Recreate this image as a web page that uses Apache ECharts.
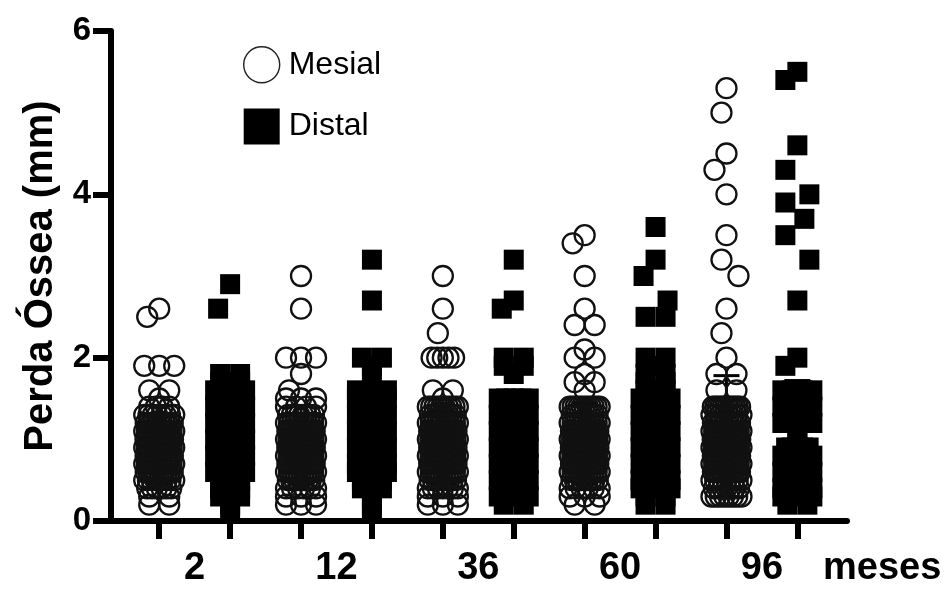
<!DOCTYPE html>
<html>
<head>
<meta charset="utf-8">
<script src="https://cdn.jsdelivr.net/npm/echarts@6/dist/echarts.min.js"></script>
<style>html,body{margin:0;padding:0;background:#fff}#c{width:949px;height:590px}</style>
</head>
<body>
<div id="c"></div>
<script>
// ---------- data (bone loss, mm) ----------
const categories = ['2', '12', '36', '60', '96'];

const mesial2 = [2.6, 2.5, 1.9, 1.9, 1.9, 1.6, 1.6, 1.5,
  1.4, 1.4, 1.4, 1.4,
  1.3, 1.3, 1.3, 1.3, 1.3, 1.3, 1.3, 1.3,
  1.2, 1.2, 1.2, 1.2, 1.2, 1.2, 1.2, 1.2, 1.2, 1.2, 1.2,
  1.1, 1.1, 1.1, 1.1, 1.1, 1.1, 1.1, 1.1, 1.1, 1.1, 1.1, 1.1,
  1.0, 1.0, 1.0, 1.0, 1.0, 1.0, 1.0, 1.0, 1.0, 1.0, 1.0, 1.0, 1.0,
  0.9, 0.9, 0.9, 0.9, 0.9, 0.9, 0.9, 0.9, 0.9, 0.9, 0.9, 0.9, 0.9,
  0.8, 0.8, 0.8, 0.8, 0.8, 0.8, 0.8, 0.8, 0.8, 0.8, 0.8, 0.8,
  0.7, 0.7, 0.7, 0.7, 0.7, 0.7, 0.7, 0.7, 0.7, 0.7, 0.7, 0.7,
  0.6, 0.6, 0.6, 0.6, 0.6, 0.6, 0.6, 0.6, 0.6, 0.6, 0.6,
  0.5, 0.5, 0.5, 0.5, 0.5, 0.5, 0.5, 0.5, 0.5,
  0.4, 0.4, 0.4, 0.4, 0.4, 0.4,
  0.3, 0.3, 0.2, 0.2];
const mesial12 = [3.0, 2.6, 2.0, 2.0, 2.0, 1.8, 1.6, 1.5, 1.5, 1.5,
  1.4, 1.4, 1.4, 1.4,
  1.3, 1.3, 1.3, 1.3, 1.3, 1.3, 1.3, 1.3,
  1.2, 1.2, 1.2, 1.2, 1.2, 1.2, 1.2, 1.2, 1.2, 1.2, 1.2,
  1.1, 1.1, 1.1, 1.1, 1.1, 1.1, 1.1, 1.1, 1.1, 1.1, 1.1, 1.1,
  1.0, 1.0, 1.0, 1.0, 1.0, 1.0, 1.0, 1.0, 1.0, 1.0, 1.0, 1.0, 1.0,
  0.9, 0.9, 0.9, 0.9, 0.9, 0.9, 0.9, 0.9, 0.9, 0.9, 0.9, 0.9, 0.9,
  0.8, 0.8, 0.8, 0.8, 0.8, 0.8, 0.8, 0.8, 0.8, 0.8, 0.8, 0.8,
  0.7, 0.7, 0.7, 0.7, 0.7, 0.7, 0.7, 0.7, 0.7, 0.7, 0.7, 0.7,
  0.6, 0.6, 0.6, 0.6, 0.6, 0.6, 0.6, 0.6, 0.6, 0.6, 0.6,
  0.5, 0.5, 0.5, 0.5, 0.5, 0.5, 0.5, 0.5, 0.5,
  0.4, 0.4, 0.4, 0.4, 0.4, 0.4,
  0.3, 0.3, 0.3, 0.2, 0.2, 0.2];
const mesial36 = [3.0, 2.6, 2.3, 2.0, 2.0, 2.0, 2.0, 2.0, 1.6, 1.6, 1.5,
  1.4, 1.4, 1.4, 1.4, 1.4, 1.4, 1.4, 1.4, 1.4, 1.4,
  1.3, 1.3, 1.3, 1.3, 1.3, 1.3, 1.3, 1.3,
  1.2, 1.2, 1.2, 1.2, 1.2, 1.2, 1.2, 1.2, 1.2, 1.2, 1.2,
  1.1, 1.1, 1.1, 1.1, 1.1, 1.1, 1.1, 1.1, 1.1, 1.1, 1.1, 1.1,
  1.0, 1.0, 1.0, 1.0, 1.0, 1.0, 1.0, 1.0, 1.0, 1.0, 1.0, 1.0, 1.0,
  0.9, 0.9, 0.9, 0.9, 0.9, 0.9, 0.9, 0.9, 0.9, 0.9, 0.9, 0.9,
  0.8, 0.8, 0.8, 0.8, 0.8, 0.8, 0.8, 0.8, 0.8, 0.8, 0.8, 0.8,
  0.7, 0.7, 0.7, 0.7, 0.7, 0.7, 0.7, 0.7, 0.7, 0.7, 0.7, 0.7,
  0.6, 0.6, 0.6, 0.6, 0.6, 0.6, 0.6, 0.6, 0.6, 0.6, 0.6,
  0.5, 0.5, 0.5, 0.5, 0.5, 0.5, 0.5, 0.5, 0.5,
  0.4, 0.4, 0.4, 0.4, 0.4, 0.4, 0.4,
  0.3, 0.3, 0.3, 0.2, 0.2, 0.2];
const mesial60 = [3.5, 3.4, 3.0, 2.6, 2.4, 2.4, 2.1, 2.0, 2.0, 1.8, 1.7, 1.7, 1.6,
  1.4, 1.4, 1.4, 1.4, 1.4, 1.4, 1.4, 1.4, 1.4, 1.4, 1.4,
  1.3, 1.3, 1.3, 1.3, 1.3, 1.3, 1.3, 1.3,
  1.2, 1.2, 1.2, 1.2, 1.2, 1.2, 1.2, 1.2, 1.2, 1.2, 1.2,
  1.1, 1.1, 1.1, 1.1, 1.1, 1.1, 1.1, 1.1, 1.1, 1.1, 1.1, 1.1,
  1.0, 1.0, 1.0, 1.0, 1.0, 1.0, 1.0, 1.0, 1.0, 1.0, 1.0, 1.0, 1.0,
  0.9, 0.9, 0.9, 0.9, 0.9, 0.9, 0.9, 0.9, 0.9, 0.9, 0.9, 0.9, 0.9,
  0.8, 0.8, 0.8, 0.8, 0.8, 0.8, 0.8, 0.8, 0.8, 0.8, 0.8, 0.8,
  0.7, 0.7, 0.7, 0.7, 0.7, 0.7, 0.7, 0.7, 0.7, 0.7, 0.7, 0.7,
  0.6, 0.6, 0.6, 0.6, 0.6, 0.6, 0.6, 0.6, 0.6, 0.6, 0.6,
  0.5, 0.5, 0.5, 0.5, 0.5, 0.5, 0.5, 0.5, 0.5,
  0.4, 0.4, 0.4, 0.4, 0.4, 0.4,
  0.3, 0.3, 0.3, 0.2, 0.2];
const mesial96 = [5.3, 5.0, 4.5, 4.3, 4.0, 3.5, 3.2, 3.0, 2.6, 2.3, 2.0, 1.8, 1.8, 1.6, 1.6,
  1.4, 1.4, 1.4, 1.4, 1.4, 1.4, 1.4, 1.4, 1.4, 1.4, 1.4, 1.4,
  1.3, 1.3, 1.3, 1.3, 1.3, 1.3, 1.3, 1.3,
  1.2, 1.2, 1.2, 1.2, 1.2, 1.2, 1.2, 1.2, 1.2, 1.2, 1.2,
  1.1, 1.1, 1.1, 1.1, 1.1, 1.1, 1.1, 1.1, 1.1, 1.1, 1.1, 1.1,
  1.0, 1.0, 1.0, 1.0, 1.0, 1.0, 1.0, 1.0, 1.0, 1.0, 1.0, 1.0, 1.0,
  0.9, 0.9, 0.9, 0.9, 0.9, 0.9, 0.9, 0.9, 0.9, 0.9, 0.9, 0.9, 0.9,
  0.8, 0.8, 0.8, 0.8, 0.8, 0.8, 0.8, 0.8, 0.8, 0.8, 0.8, 0.8,
  0.7, 0.7, 0.7, 0.7, 0.7, 0.7, 0.7, 0.7, 0.7, 0.7, 0.7, 0.7,
  0.6, 0.6, 0.6, 0.6, 0.6, 0.6, 0.6, 0.6, 0.6, 0.6, 0.6,
  0.5, 0.5, 0.5, 0.5, 0.5, 0.5, 0.5, 0.5, 0.5,
  0.4, 0.4, 0.4, 0.4, 0.4, 0.4, 0.4,
  0.3, 0.3, 0.3, 0.3, 0.3, 0.3, 0.3, 0.3];

const distal2 = [2.9, 2.6, 1.8, 1.8, 1.7, 1.7, 1.6, 1.6, 1.6, 1.6, 1.5, 1.5, 1.5, 1.5,
  1.4, 1.4, 1.4, 1.4, 1.4, 1.3, 1.3, 1.3, 1.3, 1.3, 1.2, 1.2, 1.2, 1.2, 1.2, 1.2,
  1.1, 1.1, 1.1, 1.1, 1.1, 1.1, 1.0, 1.0, 1.0, 1.0, 1.0, 1.0, 1.0,
  0.9, 0.9, 0.9, 0.9, 0.9, 0.9, 0.9, 0.8, 0.8, 0.8, 0.8, 0.8, 0.8,
  0.7, 0.7, 0.7, 0.7, 0.7, 0.7, 0.6, 0.6, 0.6, 0.6, 0.6, 0.5, 0.5, 0.4, 0.4, 0.3, 0.3, 0.2, 0.1];
const distal12 = [3.2, 2.7, 2.0, 2.0, 1.9, 1.8, 1.6, 1.6, 1.6, 1.5, 1.5, 1.5, 1.5,
  1.4, 1.4, 1.4, 1.4, 1.4, 1.3, 1.3, 1.3, 1.3, 1.3, 1.2, 1.2, 1.2, 1.2, 1.2, 1.2,
  1.1, 1.1, 1.1, 1.1, 1.1, 1.1, 1.0, 1.0, 1.0, 1.0, 1.0, 1.0, 1.0,
  0.9, 0.9, 0.9, 0.9, 0.9, 0.9, 0.9, 0.8, 0.8, 0.8, 0.8, 0.8, 0.8,
  0.7, 0.7, 0.7, 0.7, 0.7, 0.6, 0.6, 0.6, 0.5, 0.5, 0.4, 0.4, 0.3, 0.2, 0.1];
const distal36 = [3.2, 2.7, 2.6, 2.0, 2.0, 1.9, 1.9, 1.8,
  1.5, 1.5, 1.5, 1.5, 1.5, 1.4, 1.4, 1.4, 1.4, 1.4, 1.3, 1.3, 1.3, 1.3, 1.3,
  1.2, 1.2, 1.2, 1.2, 1.2, 1.2, 1.1, 1.1, 1.1, 1.1, 1.1, 1.1,
  1.0, 1.0, 1.0, 1.0, 1.0, 1.0, 1.0, 0.9, 0.9, 0.9, 0.9, 0.9, 0.9, 0.9,
  0.8, 0.8, 0.8, 0.8, 0.8, 0.8, 0.8, 0.7, 0.7, 0.7, 0.7, 0.7, 0.7,
  0.6, 0.6, 0.6, 0.6, 0.6, 0.6, 0.5, 0.5, 0.5, 0.5, 0.5, 0.4, 0.4, 0.4, 0.4, 0.3, 0.3, 0.3, 0.2, 0.2];
const distal60 = [3.6, 3.2, 3.0, 2.7, 2.5, 2.5, 2.0, 2.0, 1.9, 1.8, 1.8, 1.7, 1.7,
  1.6, 1.6, 1.6, 1.6, 1.5, 1.5, 1.5, 1.5, 1.4, 1.4, 1.4, 1.4, 1.4, 1.3, 1.3, 1.3, 1.3, 1.3,
  1.2, 1.2, 1.2, 1.2, 1.2, 1.2, 1.1, 1.1, 1.1, 1.1, 1.1, 1.1,
  1.0, 1.0, 1.0, 1.0, 1.0, 1.0, 1.0, 0.9, 0.9, 0.9, 0.9, 0.9, 0.9, 0.9,
  0.8, 0.8, 0.8, 0.8, 0.8, 0.8, 0.7, 0.7, 0.7, 0.7, 0.7, 0.7,
  0.6, 0.6, 0.6, 0.6, 0.6, 0.5, 0.5, 0.5, 0.5, 0.4, 0.4, 0.4, 0.3, 0.3, 0.2, 0.2];
const distal96 = [5.5, 5.4, 4.6, 4.3, 4.0, 3.9, 3.7, 3.5, 3.2, 2.7, 2.0, 1.9,
  1.6, 1.6, 1.6, 1.6, 1.5, 1.5, 1.5, 1.5, 1.5, 1.4, 1.4, 1.4, 1.4, 1.4,
  1.3, 1.3, 1.3, 1.3, 1.3, 1.2, 1.2, 1.2, 1.2, 1.2, 1.1, 1.0,
  0.9, 0.9, 0.9, 0.9, 0.9, 0.8, 0.8, 0.8, 0.8, 0.8, 0.8, 0.7, 0.7, 0.7, 0.7, 0.7, 0.7,
  0.6, 0.6, 0.6, 0.6, 0.6, 0.6, 0.5, 0.5, 0.5, 0.5, 0.5, 0.4, 0.4, 0.4, 0.4, 0.3, 0.3, 0.3, 0.2, 0.2];

// mean - SD / mean + SD for [M2, D2, M12, D12, M36, D36, M60, D60, M96, D96]
const errLow  = [0.45, 0.55, 0.45, 0.5, 0.45, 0.5, 0.45, 0.5, 0.3, 0.6];
const errHigh = [1.3, 1.4, 1.3, 1.45, 1.35, 1.45, 1.45, 1.6, 1.78, 1.72];

const mesialGroups = [mesial2, mesial12, mesial36, mesial60, mesial96];
const distalGroups = [distal2, distal12, distal36, distal60, distal96];

// ---------- chart ----------
const FONT = '"Liberation Sans", Arial, Helvetica, sans-serif';
const MARK = 20;
const chart = echarts.init(document.getElementById('c'), null, { renderer: 'canvas' });

const base = {
  animation: false,
  backgroundColor: '#fff',
  textStyle: { fontFamily: FONT },
  grid: { left: 111, right: 102, top: 31, bottom: 69, containLabel: false },
  legend: {
    data: [
      { name: 'Mesial', icon: 'circle', itemStyle: { color: 'rgba(0,0,0,0)', borderColor: '#222', borderWidth: 1.4 } },
      { name: 'Distal', icon: 'rect', itemStyle: { color: '#000' } }
    ],
    orient: 'vertical', left: 243, top: 46, padding: 0,
    itemWidth: 36, itemHeight: 36, itemGap: 25,
    selectedMode: false,
    textStyle: { fontSize: 32, color: '#000', fontFamily: FONT, padding: [0, 0, 0, 4] }
  },
  xAxis: {
    type: 'value', min: -0.68, max: 9.7,
    axisLine: { show: true, onZero: false, lineStyle: { color: '#000', width: 6 } },
    axisTick: { show: true, customValues: [0, 1, 2, 3, 4, 5, 6, 7, 8, 9], length: 18, lineStyle: { color: '#000', width: 6 } },
    axisLabel: {
      customValues: [0.5, 2.5, 4.5, 6.5, 8.5],
      formatter: v => categories[Math.round((v - 0.5) / 2)],
      fontSize: 38, fontWeight: 'bold', color: '#000', fontFamily: FONT, margin: 29
    },
    splitLine: { show: false },
    name: 'meses', nameLocation: 'end', nameGap: -24,
    nameTextStyle: { fontSize: 38, fontWeight: 'bold', color: '#000', fontFamily: FONT, align: 'left', verticalAlign: 'top', padding: [29, 0, 0, 0] }
  },
  yAxis: {
    type: 'value', min: 0, max: 6, interval: 2,
    axisLine: { show: true, onZero: false, lineStyle: { color: '#000', width: 6 } },
    axisTick: { show: true, length: 18, lineStyle: { color: '#000', width: 6 } },
    axisLabel: { fontSize: 33, fontWeight: 'bold', color: '#000', fontFamily: FONT, margin: 20 },
    splitLine: { show: false },
    name: 'Perda Óssea (mm)', nameLocation: 'middle', nameRotate: 90, nameGap: 50,
    nameTextStyle: { fontSize: 40, fontWeight: 'bold', color: '#000', fontFamily: FONT }
  },
  series: []
};
chart.setOption(base);

// pixel scale of the axes
const p0 = chart.convertToPixel({ gridIndex: 0 }, [0, 0]);
const p1 = chart.convertToPixel({ gridIndex: 0 }, [1, 1]);
const pxX = p1[0] - p0[0];
const pxY = p0[1] - p1[1];

// deterministic dot-plot layout: equal values side by side, lone points nudged apart
function layout(values, pos, square) {
  const HALF = 15, SING = 12, CLEAR = MARK * 1.25;
  const rows = [];
  values.slice().sort((a, b) => b - a).forEach(v => {
    const last = rows[rows.length - 1];
    if (last && Math.abs(last.v - v) < 1e-9) last.n++; else rows.push({ v: v, n: 1 });
  });
  const placed = [];
  const out = [];
  rows.forEach((r, ri) => {
    const y = r.v * pxY;
    const offs = [];
    if (r.n > 1) {
      let half = HALF;
      let s = Math.min(MARK, 2 * half / (r.n - 1));
      if (r.n >= 4 && ri % 2 === 1) { half = HALF - s / 2; s = 2 * half / (r.n - 1); }
      for (let j = 0; j < r.n; j++) offs.push((j - (r.n - 1) / 2) * s);
    } else {
      const dist = (dx, p) => square ? Math.max(Math.abs(dx - p[0]), Math.abs(y - p[1])) : Math.hypot(dx - p[0], y - p[1]);
      const cands = [0];
      for (let d = 1; d <= SING; d++) cands.push(-d, d);
      let chosen = null;
      for (const dx of cands) {
        if (placed.every(p => dist(dx, p) >= CLEAR)) { chosen = dx; break; }
      }
      if (chosen === null) {
        const conflicts = placed.filter(p => dist(0, p) < CLEAR);
        if (conflicts.every(p => p[2])) {
          let best = 0, bs = -1;
          for (const dx of cands) {
            const m = Math.min(...conflicts.map(p => Math.hypot(dx - p[0], y - p[1])));
            if (m > bs + 0.01) { bs = m; best = dx; }
          }
          chosen = best;
        } else chosen = 0;
      }
      offs.push(chosen);
    }
    offs.forEach(dx => { placed.push([dx, y, r.n === 1]); out.push([pos + dx / pxX, r.v]); });
  });
  return out;
}

const mesialData = [];
mesialGroups.forEach((g, k) => mesialData.push(...layout(g, 2 * k, false)));
const distalData = [];
distalGroups.forEach((g, k) => distalData.push(...layout(g, 2 * k + 1, true)));
const errData = errLow.map((lo, i) => [i, lo, errHigh[i]]);

chart.setOption({
  series: [
    {
      name: 'Errors', type: 'custom', z: 2, silent: true,
      renderItem: (params, api) => {
        const x = api.value(0);
        const a = api.coord([x, api.value(1)]);
        const b = api.coord([x, api.value(2)]);
        const w = 13;
        const st = { stroke: '#000', lineWidth: 3 };
        return {
          type: 'group', children: [
            { type: 'line', shape: { x1: a[0], y1: a[1], x2: b[0], y2: b[1] }, style: st },
            { type: 'line', shape: { x1: b[0] - w, y1: b[1], x2: b[0] + w, y2: b[1] }, style: st },
            { type: 'line', shape: { x1: a[0] - w, y1: a[1], x2: a[0] + w, y2: a[1] }, style: st }
          ]
        };
      },
      data: errData
    },
    {
      name: 'Mesial', type: 'scatter', z: 3, silent: true,
      symbol: 'circle', symbolSize: MARK,
      itemStyle: { color: 'rgba(0,0,0,0)', borderColor: '#111', borderWidth: 2.3, opacity: 1 },
      data: mesialData
    },
    {
      name: 'Distal', type: 'scatter', z: 3, silent: true,
      symbol: 'rect', symbolSize: MARK,
      itemStyle: { color: '#000', opacity: 1 },
      data: distalData
    }
  ]
});
</script>
</body>
</html>
